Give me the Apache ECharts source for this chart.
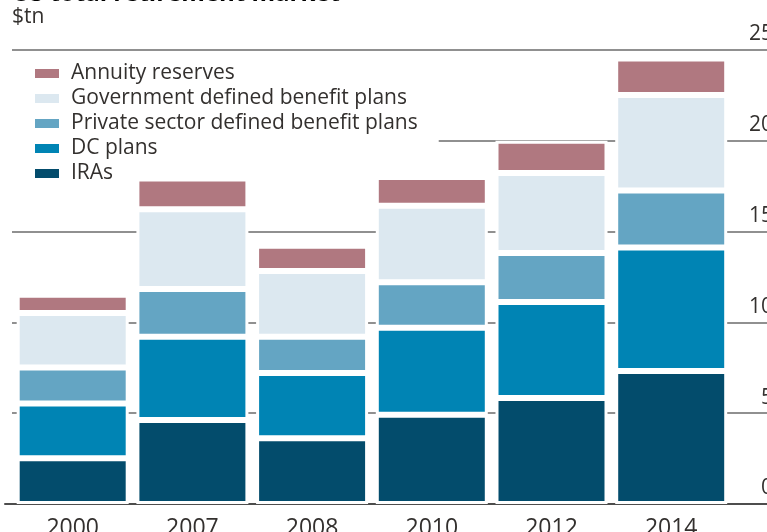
<!DOCTYPE html>
<html>
<head>
<meta charset="utf-8">
<script src="https://cdn.jsdelivr.net/npm/echarts@6/dist/echarts.min.js"></script>
<style>
  html, body { margin: 0; padding: 0; background: #fff; }
  #main { width: 767px; height: 532px; }
</style>
</head>
<body>
<div id="main"></div>
<script>
// US total retirement market, $tn
const years = ['2000', '2007', '2008', '2010', '2012', '2014']
const iras = [2.52, 4.63, 3.62, 4.92, 5.84, 7.32]
const dcPlans = [3.02, 4.58, 3.60, 4.79, 5.29, 6.80]
const privateDb = [1.98, 2.63, 1.99, 2.50, 2.69, 3.14]
const governmentDb = [3.00, 4.39, 3.62, 4.21, 4.41, 5.26]
const annuities = [1.00, 1.69, 1.39, 1.59, 1.77, 2.01]
const yTicks = [0, 5, 10, 15, 20, 25]

const font = 'Open Sans'
const textColor = '#33302e'

const seriesDefs = [
  { name: 'IRAs', data: iras, color: '#034c6c' },
  { name: 'DC plans', data: dcPlans, color: '#0084b4' },
  { name: 'Private sector defined benefit plans', data: privateDb, color: '#64a5c3' },
  { name: 'Government defined benefit plans', data: governmentDb, color: '#dce8f0' },
  { name: 'Annuity reserves', data: annuities, color: '#b07880' }
]

let myChart = echarts.init(document.getElementById('main'))

myChart.setOption({
  backgroundColor: '#fff',
  animation: false,
  textStyle: { fontFamily: font, color: textColor },
  title: [{
    text: 'US total retirement market',
    left: 12,
    top: -20,
    padding: 0,
    textStyle: { fontFamily: font, fontSize: 24, fontWeight: 'bold', color: '#000', lineHeight: 28 }
  }, {
    text: '$tn',
    left: 12,
    top: 5,
    padding: 0,
    textStyle: { fontFamily: font, fontSize: 21, fontWeight: 'normal', color: textColor, lineHeight: 24 }
  }],
  legend: {
    orient: 'vertical',
    left: 12,
    top: 55,
    z: 1,
    padding: [8, 21, 8, 21],
    backgroundColor: '#fff',
    icon: 'rect',
    itemWidth: 26,
    itemHeight: 11,
    itemGap: 4,
    selectedMode: false,
    data: seriesDefs.map(s => s.name).reverse(),
    textStyle: { fontFamily: font, fontSize: 21, color: textColor, lineHeight: 21, padding: [0, 0, 0, 6] }
  },
  grid: [
    // bars
    { left: 12.85, width: 718.2, top: 50, height: 454, outerBoundsMode: 'none' },
    // gridlines + right labels
    { left: 12, right: -6, top: 50, height: 454, outerBoundsMode: 'none' },
    // baseline
    { left: 5, right: 0, top: 50, height: 454, outerBoundsMode: 'none' }
  ],
  xAxis: [{
    type: 'category',
    gridIndex: 0,
    data: years,
    axisLine: { show: false },
    axisTick: { show: false },
    axisLabel: { margin: 13, fontFamily: font, fontSize: 23, color: textColor, lineHeight: 23 }
  }, {
    type: 'value',
    gridIndex: 1,
    show: false
  }, {
    type: 'value',
    gridIndex: 2,
    axisLine: { show: true, lineStyle: { color: '#4d4d4d', width: 2 } },
    axisTick: { show: false },
    axisLabel: { show: false },
    splitLine: { show: false }
  }],
  yAxis: [{
    type: 'value',
    gridIndex: 0,
    min: 0,
    max: 25,
    interval: 5,
    show: false
  }, {
    type: 'value',
    gridIndex: 1,
    position: 'right',
    min: yTicks[0],
    max: yTicks[yTicks.length - 1],
    interval: 5,
    axisLine: { show: false },
    axisTick: { show: false },
    splitLine: { show: true, lineStyle: { color: '#6b6b6b', width: 1.5 } },
    axisLabel: {
      inside: true,
      margin: 0,
      verticalAlign: 'bottom',
      fontFamily: font,
      fontSize: 21,
      lineHeight: 21,
      color: textColor,
      padding: [0, 0, 5, 0]
    }
  }, {
    type: 'value',
    gridIndex: 2,
    min: 0,
    max: 25,
    show: false
  }],
  series: seriesDefs.map(s => ({
    name: s.name,
    type: 'bar',
    stack: 'total',
    xAxisIndex: 0,
    yAxisIndex: 0,
    barWidth: 112,
    data: s.data,
    itemStyle: { color: s.color, borderColor: '#fff', borderWidth: 3 }
  }))
})
</script>
</body>
</html>
